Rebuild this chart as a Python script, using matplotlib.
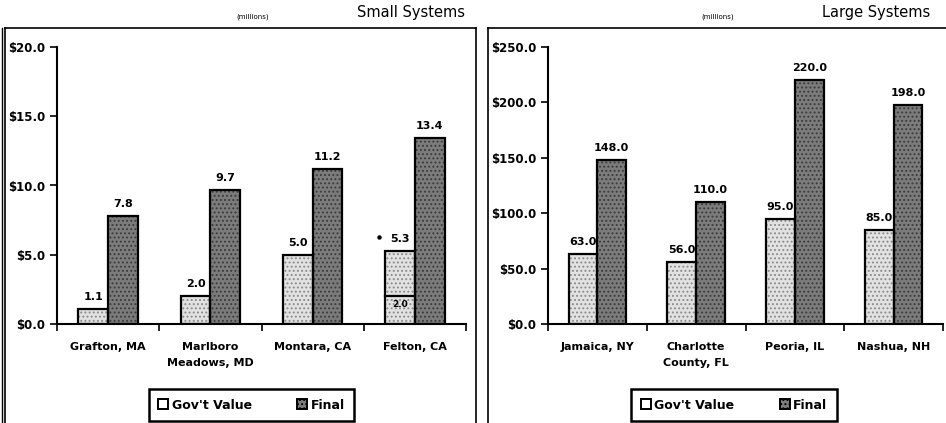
import matplotlib
matplotlib.use("Agg")
import matplotlib.pyplot as plt
from matplotlib.patches import Patch
from matplotlib.lines import Line2D

# Small systems ($ millions)
small_sites = ["Grafton, MA", "Marlboro\nMeadows, MD", "Montara, CA", "Felton, CA"]
small_gov = [1.1, 2.0, 5.0, 5.3]
small_final = [7.8, 9.7, 11.2, 13.4]
small_ticks = [0, 5, 10, 15, 20]
felton_split = 2.0  # inner segment marked inside Felton's gov bar

# Large systems ($ millions)
large_sites = ["Jamaica, NY", "Charlotte\nCounty, FL", "Peoria, IL", "Nashua, NH"]
large_gov = [63.0, 56.0, 95.0, 85.0]
large_final = [148.0, 110.0, 220.0, 198.0]
large_ticks = [0, 50, 100, 150, 200, 250]

W, H = 946, 423
GOV_FILL, GOV_DOTS = "#e2e2e2", "#8c8c8c"
FIN_FILL, FIN_DOTS = "#7c7c7c", "#3c3c3c"
FONT = "DejaVu Sans"

plt.rcParams["font.family"] = FONT
plt.rcParams["hatch.linewidth"] = 0.9

fig = plt.figure(figsize=(W / 100, H / 100), dpi=100)


def px_rect(x0, y0, x1, y1):
    # pixel box (top-left origin) -> figure fraction [l, b, w, h]
    return [x0 / W, 1 - y1 / H, (x1 - x0) / W, (y1 - y0) / H]


def fig_line(xs, ys, lw=1.2):
    fig.add_artist(Line2D([x / W for x in xs], [1 - y / H for y in ys],
                          color="black", lw=lw, transform=fig.transFigure))


def stipple_bars(ax, x, vals, width, fill, dots):
    ax.bar(x, vals, width, color=fill, edgecolor=dots, hatch="....",
           linewidth=0, align="edge", zorder=2)
    ax.bar(x, vals, width, facecolor="none", edgecolor="black",
           linewidth=1.6, align="edge", zorder=3)


def panel(rect, sites, gov, final, ticks, title, title_x, units_x):
    ax = fig.add_axes(px_rect(*rect))
    n = len(sites)
    bw = 0.29
    xs = list(range(n))
    gov_x = [i + 0.5 - bw for i in xs]
    fin_x = [i + 0.5 for i in xs]
    stipple_bars(ax, gov_x, gov, bw, GOV_FILL, GOV_DOTS)
    stipple_bars(ax, fin_x, final, bw, FIN_FILL, FIN_DOTS)

    top = ticks[-1]
    pad = top * 0.025
    for gx, g in zip(gov_x, gov):
        ax.text(gx + bw / 2, g + pad, f"{g:.1f}", ha="center", va="bottom",
                fontsize=8, fontweight="bold", zorder=4)
    for fx, f in zip(fin_x, final):
        ax.text(fx + bw / 2, f + pad, f"{f:.1f}", ha="center", va="bottom",
                fontsize=8, fontweight="bold", zorder=4)

    ax.set_xlim(0, n)
    ax.set_ylim(0, top)
    ax.set_yticks(ticks)
    ax.set_yticklabels([f"${t:.1f}" for t in ticks], fontsize=8.5,
                       fontweight="bold")
    ax.set_xticks(range(n + 1))
    ax.set_xticklabels([])
    ax.set_xticks([i + 0.5 for i in xs], minor=True)
    ax.set_xticklabels(sites, minor=True, fontsize=8, fontweight="bold",
                       linespacing=1.75)
    ax.tick_params(axis="x", which="minor", length=0, pad=13)
    ax.tick_params(axis="both", which="major", length=5, width=1.2,
                   direction="out", color="black")
    for s in ("top", "right"):
        ax.spines[s].set_visible(False)
    for s in ("left", "bottom"):
        ax.spines[s].set_linewidth(1.5)

    fig.text(title_x / W, 1 - 13 / H, title, fontsize=10.5, ha="right",
             va="center")
    fig.text(units_x / W, 1 - 17 / H, "(millions)", fontsize=5,
             ha="center", va="center")

    handles = [Patch(facecolor="white", edgecolor="black", lw=1.4,
                     label="Gov't Value"),
               Patch(facecolor=FIN_FILL, edgecolor="black", lw=1.4,
                     hatch="....", label="Final")]
    return ax, handles


ax1, h1 = panel((57, 47, 466, 324), small_sites, small_gov, small_final,
                small_ticks, "Small Systems", 465, 253)
ax2, h2 = panel((548, 47, 943, 324), large_sites, large_gov, large_final,
                large_ticks, "Large Systems", 930, 718)

# Felton: earlier $2.0M portion shown as a split inside the gov bar
fx = 3 + 0.5 - 0.29
ax1.plot([fx, fx + 0.29], [felton_split, felton_split], color="black",
         lw=1.6, zorder=4)
ax1.text(fx + 0.29 / 2, felton_split - 0.25, f"{felton_split:.1f}",
         ha="center", va="top", fontsize=6.5, fontweight="bold", zorder=4)
ax1.plot([fx - 0.065], [small_gov[3] + 0.95], marker="o", ms=2.2,
         color="black", zorder=4)

for handles, (x0, x1) in ((h1, (145, 358)), (h2, (631, 837))):
    leg = fig.legend(handles=handles, ncol=2, loc="center",
                     bbox_to_anchor=((x0 + x1) / 2 / W, 1 - 405 / H),
                     prop={"weight": "bold", "size": 9},
                     frameon=True, fancybox=False, edgecolor="black",
                     framealpha=1, handlelength=0.8, handleheight=0.8,
                     handletextpad=0.3, columnspacing=3.6, borderpad=0.75,
                     borderaxespad=0)
    leg.get_frame().set_linewidth(1.8)

# panel frames
fig_line([1.5, 1.5], [28, H], lw=1.0)
fig_line([5, 5], [28, H], lw=1.2)
fig_line([5, 476], [28, 28])
fig_line([476, 476], [28, H])
fig_line([488, 488], [28, H])
fig_line([488, W], [28, 28])

fig.savefig("out.png", dpi=100)
